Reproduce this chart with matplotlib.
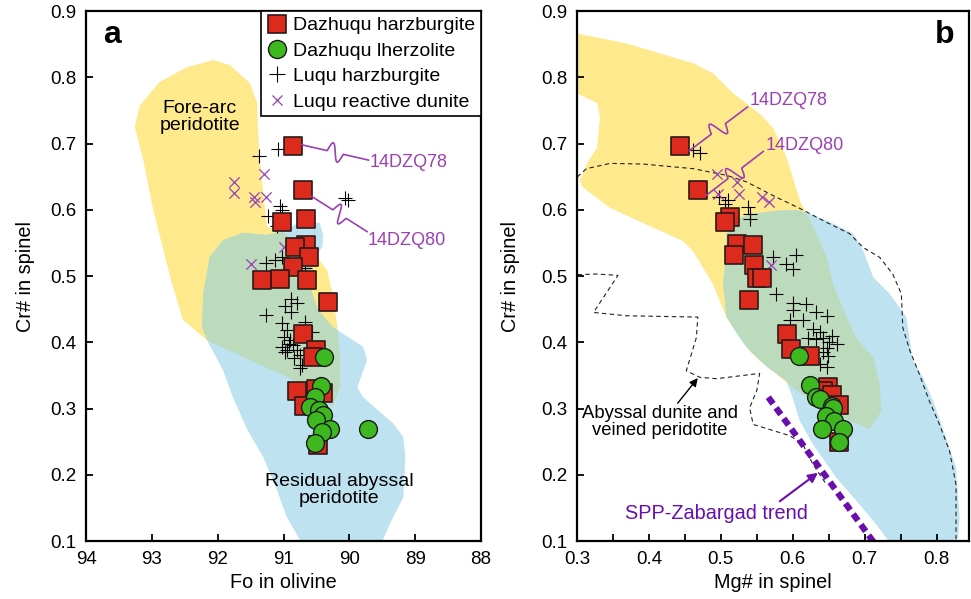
import numpy as np
import matplotlib
matplotlib.use("Agg")
import matplotlib.pyplot as plt
from matplotlib.lines import Line2D
from matplotlib.patches import Polygon

plt.rcParams['font.family'] = ['Liberation Sans', 'DejaVu Sans']

# ---------------- panel a: Fo in olivine vs Cr# in spinel ----------------
dzq_harz_fo = [90.85, 90.71, 90.66, 91.02, 90.66, 90.83, 90.61, 90.86, 91.06, 91.32,
               90.65, 90.33, 90.71, 90.51, 90.55, 90.50, 90.80, 90.40, 90.69, 90.47]
dzq_harz_cr_a = [0.697, 0.630, 0.586, 0.582, 0.547, 0.544, 0.528, 0.514, 0.495, 0.494,
                 0.494, 0.461, 0.412, 0.389, 0.378, 0.330, 0.327, 0.323, 0.304, 0.245]

dzq_lherz_fo = [90.38, 90.43, 90.52, 90.60, 90.46, 90.40, 90.50, 90.29, 90.42, 90.52, 89.72]
dzq_lherz_cr_a = [0.378, 0.334, 0.317, 0.303, 0.298, 0.290, 0.283, 0.269, 0.265, 0.248, 0.269]

luqu_harz_fo = [91.08, 91.38, 90.07, 90.02, 91.05, 91.03, 91.23, 91.10, 91.26, 91.13, 91.03,
                90.67, 90.88, 90.80, 90.98, 90.88, 91.27, 91.03, 90.67, 90.95, 91.00, 90.90,
                90.85, 91.03, 90.95, 90.80, 90.75, 90.72, 90.75, 90.57, 90.92, 90.98, 90.84]
luqu_harz_cr_a = [0.691, 0.681, 0.618, 0.615, 0.605, 0.600, 0.591, 0.575, 0.519, 0.524, 0.529,
                  0.512, 0.466, 0.459, 0.454, 0.446, 0.441, 0.429, 0.431, 0.418, 0.408, 0.403,
                  0.396, 0.393, 0.388, 0.388, 0.381, 0.366, 0.361, 0.416, 0.398, 0.386, 0.377]

luqu_dun_fo = [91.29, 91.75, 91.75, 91.45, 91.43, 91.27, 91.00, 91.50]
luqu_dun_cr_a = [0.654, 0.642, 0.625, 0.620, 0.612, 0.620, 0.544, 0.518]

forearc_fo = [93.26, 93.18, 92.88, 92.47, 92.07, 91.81, 91.51, 91.40, 91.39, 91.36, 91.31,
              91.25, 90.98, 90.75, 90.52, 90.34, 90.25, 90.19, 90.14, 90.14, 90.25, 90.55,
              90.95, 91.51, 92.16, 92.53, 92.72, 92.98, 93.13]
forearc_cr_a = [0.725, 0.758, 0.793, 0.815, 0.826, 0.818, 0.791, 0.761, 0.725, 0.675, 0.625,
                0.574, 0.565, 0.547, 0.532, 0.509, 0.471, 0.429, 0.373, 0.335, 0.302, 0.328,
                0.348, 0.373, 0.403, 0.434, 0.498, 0.600, 0.675]

abyssal_fo = [92.12, 91.92, 91.62, 91.25, 90.95, 90.79, 90.64, 90.45, 90.40, 90.41, 90.57,
              90.60, 90.48, 90.25, 89.79, 89.73, 89.88, 89.79, 89.34, 89.18, 89.15, 89.18,
              89.38, 89.56, 90.66, 90.95, 91.10, 91.31, 91.55, 91.77, 91.92, 92.16, 92.24, 92.22]
abyssal_cr_a = [0.529, 0.554, 0.565, 0.562, 0.569, 0.580, 0.582, 0.580, 0.562, 0.544, 0.521,
                0.486, 0.449, 0.423, 0.393, 0.373, 0.332, 0.317, 0.278, 0.257, 0.227, 0.166,
                0.127, 0.086, 0.086, 0.136, 0.177, 0.227, 0.268, 0.317, 0.358, 0.403, 0.423, 0.474]

# ---------------- panel b: Mg# in spinel vs Cr# in spinel ----------------
dzq_harz_mg = [0.443, 0.468, 0.513, 0.506, 0.522, 0.545, 0.518, 0.546, 0.550, 0.557,
               0.539, 0.592, 0.598, 0.624, 0.649, 0.642, 0.655, 0.664, 0.665]
dzq_harz_cr_b = [0.697, 0.630, 0.589, 0.582, 0.549, 0.547, 0.531, 0.516, 0.497, 0.497,
                 0.464, 0.412, 0.390, 0.380, 0.332, 0.327, 0.320, 0.306, 0.249]

dzq_lherz_mg = [0.609, 0.624, 0.633, 0.638, 0.654, 0.656, 0.646, 0.657, 0.670, 0.640, 0.664]
dzq_lherz_cr_b = [0.380, 0.336, 0.317, 0.314, 0.304, 0.301, 0.289, 0.281, 0.269, 0.269, 0.249]

luqu_harz_mg = [0.462, 0.471, 0.498, 0.510, 0.506, 0.538, 0.540, 0.540, 0.573, 0.605, 0.591,
                0.600, 0.577, 0.600, 0.619, 0.600, 0.633, 0.647, 0.614, 0.596, 0.628, 0.638,
                0.621, 0.642, 0.661, 0.647, 0.642, 0.649, 0.638, 0.647, 0.633, 0.655, 0.650]
luqu_harz_cr_b = [0.690, 0.685, 0.619, 0.614, 0.608, 0.604, 0.594, 0.586, 0.528, 0.531, 0.518,
                  0.511, 0.473, 0.460, 0.458, 0.448, 0.445, 0.440, 0.433, 0.433, 0.420, 0.415,
                  0.407, 0.406, 0.397, 0.392, 0.385, 0.380, 0.367, 0.362, 0.405, 0.410, 0.400]

luqu_dun_mg = [0.494, 0.523, 0.496, 0.525, 0.557, 0.567, 0.570]
luqu_dun_cr_b = [0.654, 0.642, 0.624, 0.624, 0.619, 0.612, 0.517]

forearc_mg = [0.276, 0.300, 0.369, 0.462, 0.489, 0.517, 0.554, 0.573, 0.591, 0.610, 0.619,
              0.633, 0.647, 0.656, 0.675, 0.688, 0.712, 0.721, 0.723, 0.707, 0.647, 0.619,
              0.600, 0.577, 0.554, 0.540, 0.508, 0.489, 0.461, 0.447, 0.406, 0.346, 0.308,
              0.304, 0.314, 0.328, 0.332, 0.328, 0.300, 0.276]
forearc_cr_b = [0.871, 0.866, 0.851, 0.821, 0.806, 0.776, 0.745, 0.723, 0.680, 0.614, 0.594,
                0.564, 0.528, 0.488, 0.438, 0.407, 0.377, 0.337, 0.296, 0.269, 0.296, 0.317,
                0.332, 0.352, 0.372, 0.387, 0.437, 0.488, 0.538, 0.553, 0.573, 0.603, 0.634,
                0.644, 0.670, 0.694, 0.740, 0.761, 0.776, 0.780]

abyssal_mg = [0.508, 0.517, 0.544, 0.582, 0.610, 0.647, 0.684, 0.698, 0.712, 0.735, 0.758,
              0.767, 0.781, 0.795, 0.813, 0.827, 0.832, 0.830, 0.804, 0.739, 0.716, 0.693,
              0.661, 0.628, 0.610, 0.598, 0.591, 0.565, 0.536, 0.522, 0.508, 0.503, 0.508]
abyssal_cr_b = [0.564, 0.584, 0.594, 0.599, 0.599, 0.584, 0.564, 0.538, 0.498, 0.473, 0.438,
                0.372, 0.347, 0.312, 0.256, 0.211, 0.135, 0.105, 0.092, 0.092, 0.125, 0.155,
                0.195, 0.246, 0.281, 0.322, 0.342, 0.362, 0.392, 0.413, 0.438, 0.489, 0.538]

dunite_upper_mg = [0.290, 0.300, 0.313, 0.346, 0.392, 0.462, 0.508, 0.536, 0.577, 0.610, 0.647,
                   0.679, 0.698, 0.721, 0.739, 0.751, 0.753, 0.763, 0.776, 0.790, 0.804, 0.818,
                   0.827, 0.827, 0.827]
dunite_upper_cr = [0.647, 0.649, 0.662, 0.670, 0.669, 0.662, 0.652, 0.642, 0.619, 0.602, 0.581,
                   0.564, 0.543, 0.528, 0.503, 0.473, 0.422, 0.387, 0.352, 0.311, 0.276, 0.236,
                   0.185, 0.140, 0.092]
dunite_lower_mg = [0.290, 0.300, 0.327, 0.357, 0.323, 0.369, 0.468, 0.466, 0.452, 0.471, 0.494,
                   0.554, 0.550, 0.540, 0.545, 0.596, 0.614, 0.628, 0.647]
dunite_lower_cr = [0.502, 0.502, 0.503, 0.501, 0.445, 0.440, 0.438, 0.407, 0.357, 0.347, 0.345,
                   0.353, 0.327, 0.301, 0.276, 0.259, 0.246, 0.216, 0.185]

spp_trend_mg = [0.566, 0.72]
spp_trend_cr = [0.317, 0.087]

YELLOW = '#FEE98D'
BLUE = '#BEE2F0'
GREEN = '#BCDBBC'
RED = '#DC2A1C'
LGREEN = '#3DB81E'
PURPLE = '#9B3FB5'
DPURPLE = '#6A0DAD'


def draw_fields(ax, fx, fy, ax2, ay2):
    yel = Polygon(np.column_stack([fx, fy]), closed=True, fc=YELLOW, ec='none', zorder=1)
    blu = Polygon(np.column_stack([ax2, ay2]), closed=True, fc=BLUE, ec='none', zorder=1.1)
    ax.add_patch(yel)
    ax.add_patch(blu)
    # overlap of the two fields
    clip = Polygon(np.column_stack([fx, fy]), closed=True, fc='none', ec='none',
                   transform=ax.transData)
    grn = Polygon(np.column_stack([ax2, ay2]), closed=True, fc=GREEN, ec='none', zorder=1.2)
    ax.add_patch(grn)
    grn.set_clip_path(clip)


def draw_points(ax, hx, hy, lx, ly, px, py, dx, dy):
    ax.scatter(px, py, marker='+', s=110, c='black', linewidths=0.8, zorder=3)
    ax.scatter(dx, dy, marker='x', s=55, c=PURPLE, linewidths=0.9, zorder=3)
    ax.scatter(hx, hy, marker='s', s=165, c=RED, edgecolors='#2a1a1a', linewidths=1.2, zorder=4)
    ax.scatter(lx, ly, marker='o', s=165, c=LGREEN, edgecolors='#1a1a1a', linewidths=1.0, zorder=5)


def wiggle(ax, p0, p1, color=PURPLE, amp=9.0):
    # connector line with an S-shaped kink in the middle, built in pixel space
    a = ax.transData.transform(p0)
    b = ax.transData.transform(p1)
    d = b - a
    L = np.hypot(*d)
    u = d / L
    n = np.array([-u[1], u[0]])
    t = np.linspace(0, 1, 300)
    off = np.where((t > 0.38) & (t < 0.62), amp * np.sin(2 * np.pi * (t - 0.38) / 0.24), 0.0)
    pts = a[None, :] + t[:, None] * d[None, :] + off[:, None] * n[None, :]
    dp = ax.transData.inverted().transform(pts)
    ax.plot(dp[:, 0], dp[:, 1], color=color, lw=1.2, zorder=6)


def style_axes(ax):
    for s in ax.spines.values():
        s.set_linewidth(1.6)
    ax.tick_params(direction='in', length=5, width=1.3, labelsize=13.5, pad=7)
    ax.tick_params(which='minor', direction='in', length=5, width=1.3)
    ax.set_yticks(np.arange(0.1, 0.91, 0.1))
    ax.set_yticklabels([f"{v:.1f}" for v in np.arange(0.1, 0.91, 0.1)])


fig = plt.figure(figsize=(9.71, 5.99), dpi=100)
ax_a = fig.add_axes([0.0886, 0.0968, 0.4068, 0.8848])
ax_b = fig.add_axes([0.5942, 0.0968, 0.4037, 0.8848])

# ---- panel a ----
ax_a.set_xlim(94, 88)
ax_a.set_ylim(0.1, 0.9)
style_axes(ax_a)
ax_a.set_xticks([94, 93, 92, 91, 90, 89, 88])
draw_fields(ax_a, forearc_fo, forearc_cr_a, abyssal_fo, abyssal_cr_a)
draw_points(ax_a, dzq_harz_fo, dzq_harz_cr_a, dzq_lherz_fo, dzq_lherz_cr_a,
            luqu_harz_fo, luqu_harz_cr_a, luqu_dun_fo, luqu_dun_cr_a)
ax_a.set_xlabel("Fo in olivine", fontsize=14.3)
ax_a.set_ylabel("Cr# in spinel", fontsize=14.3)
ax_a.xaxis.set_label_coords(0.5, -0.06)
ax_a.yaxis.set_label_coords(-0.13, 0.5)
ax_a.text(0.066, 0.955, "a", transform=ax_a.transAxes, fontsize=23, fontweight='bold',
          ha='center', va='center')
ax_a.text(92.27, 0.740, "Fore-arc\nperidotite", fontsize=14, ha='center', va='center',
          linespacing=1.0, zorder=7)
ax_a.text(90.16, 0.177, "Residual abyssal\nperidotite", fontsize=14, ha='center', va='center',
          linespacing=1.0, zorder=7)
ax_a.text(89.69, 0.671, "14DZQ78", fontsize=13, color=PURPLE, ha='left', va='center')
ax_a.text(89.72, 0.554, "14DZQ80", fontsize=13, color=PURPLE, ha='left', va='center')
wiggle(ax_a, (90.72, 0.698), (89.71, 0.675))
wiggle(ax_a, (90.57, 0.620), (89.73, 0.567))

handles = [
    Line2D([], [], ls='none', marker='s', ms=13, mfc=RED, mec='#2a1a1a', mew=1.2),
    Line2D([], [], ls='none', marker='o', ms=13, mfc=LGREEN, mec='#1a1a1a', mew=1.0),
    Line2D([], [], ls='none', marker='+', ms=11, mec='black', mew=0.8),
    Line2D([], [], ls='none', marker='x', ms=7.5, mec=PURPLE, mew=0.9),
]
labels = ["Dazhuqu harzburgite", "Dazhuqu lherzolite", "Luqu harzburgite", "Luqu reactive dunite"]
leg = ax_a.legend(handles, labels, loc='upper right', borderaxespad=0, fontsize=14,
                  frameon=True, fancybox=False, edgecolor='black', framealpha=1,
                  handlelength=1.0, handletextpad=0.35, labelspacing=0.4, borderpad=0.3)
leg.get_frame().set_linewidth(1.2)
leg.set_zorder(10)

# ---- panel b ----
ax_b.set_xlim(0.3, 0.845)
ax_b.set_ylim(0.1, 0.9)
style_axes(ax_b)
ax_b.set_xticks([0.3, 0.4, 0.5, 0.6, 0.7, 0.8])
ax_b.set_xticklabels(["0.3", "0.4", "0.5", "0.6", "0.7", "0.8"])
ax_b.set_xticks(np.arange(0.35, 0.84, 0.1), minor=True)
draw_fields(ax_b, forearc_mg, forearc_cr_b, abyssal_mg, abyssal_cr_b)
ax_b.plot(dunite_upper_mg, dunite_upper_cr, color='#222222', lw=0.8, ls=(0, (4, 3)), zorder=2)
ax_b.plot(dunite_lower_mg, dunite_lower_cr, color='#222222', lw=0.8, ls=(0, (4, 3)), zorder=2)
ax_b.plot(spp_trend_mg, spp_trend_cr, color=DPURPLE, lw=4.5, ls=(0, (1.3, 0.8)),
          solid_capstyle='butt', zorder=2.5, clip_on=True)
draw_points(ax_b, dzq_harz_mg, dzq_harz_cr_b, dzq_lherz_mg, dzq_lherz_cr_b,
            luqu_harz_mg, luqu_harz_cr_b, luqu_dun_mg, luqu_dun_cr_b)
ax_b.set_xlabel("Mg# in spinel", fontsize=14.3)
ax_b.set_ylabel("Cr# in spinel", fontsize=14.3)
ax_b.xaxis.set_label_coords(0.5, -0.06)
ax_b.yaxis.set_label_coords(-0.145, 0.5)
ax_b.text(0.939, 0.955, "b", transform=ax_b.transAxes, fontsize=23, fontweight='bold',
          ha='center', va='center')
ax_b.text(0.415, 0.280, "Abyssal dunite and\nveined peridotite", fontsize=13.3,
          ha='center', va='center', linespacing=1.0, zorder=7)
ax_b.annotate("", xy=(0.468, 0.346), xytext=(0.440, 0.308),
              arrowprops=dict(arrowstyle='-|>', color='black', lw=1.0, mutation_scale=12,
                              shrinkA=0, shrinkB=0), zorder=7)
ax_b.text(0.494, 0.142, "SPP-Zabargad trend", fontsize=14.3, color=DPURPLE,
          ha='center', va='center', zorder=7)
ax_b.annotate("", xy=(0.635, 0.203), xytext=(0.582, 0.160),
              arrowprops=dict(arrowstyle='-|>', color=DPURPLE, lw=1.5, mutation_scale=14,
                              shrinkA=0, shrinkB=0), zorder=7)
ax_b.text(0.540, 0.765, "14DZQ78", fontsize=13, color=PURPLE, ha='left', va='center')
ax_b.text(0.5625, 0.697, "14DZQ80", fontsize=13, color=PURPLE, ha='left', va='center')
wiggle(ax_b, (0.456, 0.689), (0.537, 0.755))
wiggle(ax_b, (0.480, 0.622), (0.559, 0.688))

fig.savefig("out.png", dpi=100)
